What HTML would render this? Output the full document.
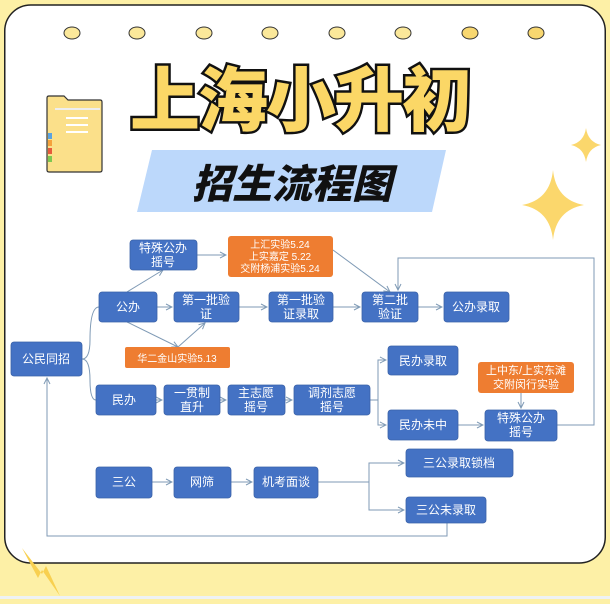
<!DOCTYPE html>
<html><head><meta charset="utf-8"><style>
body{margin:0;width:610px;height:599px;overflow:hidden;background:#fdf0a6;font-family:"Liberation Sans","Noto Sans CJK SC",sans-serif;}
</style></head><body>
<svg width="610" height="599" xmlns="http://www.w3.org/2000/svg" font-family="Liberation Sans, Noto Sans CJK SC, sans-serif">
<defs><marker id="a" markerWidth="8" markerHeight="8" refX="7" refY="4" orient="auto" markerUnits="userSpaceOnUse"><path d="M1,1 L7,4 L1,7" fill="none" stroke="#7f9ab5" stroke-width="1"/></marker></defs>
<rect x="0" y="0" width="610" height="599" fill="#fdf0a6"/>
<rect x="0" y="596" width="610" height="3" fill="#eef2f4"/>
<rect x="4.75" y="5" width="600.5" height="558" rx="26" fill="#fff" stroke="#222" stroke-width="1.5"/>
<g fill="#fbe89a" stroke="#333" stroke-width="1">
<ellipse cx="72" cy="33" rx="8" ry="6"/><ellipse cx="137" cy="33" rx="8" ry="6"/><ellipse cx="204" cy="33" rx="8" ry="6"/><ellipse cx="270" cy="33" rx="8" ry="6"/><ellipse cx="337" cy="33" rx="8" ry="6"/><ellipse cx="403" cy="33" rx="8" ry="6"/><ellipse cx="470" cy="33" rx="8" ry="6" fill="#f8d770"/><ellipse cx="536" cy="33" rx="8" ry="6" fill="#f8d770"/>
</g>
<!-- folder -->
<path d="M47,112 V98 Q47,96 49,96 H64 L68,100 H100 Q102,100 102,102 V170 Q102,172 100,172 H49 Q47,172 47,170 Z" fill="#fbe08a" stroke="#333" stroke-width="1.2"/>
<rect x="48" y="133" width="4" height="6" fill="#5ba3e0"/><rect x="48" y="140" width="4" height="6" fill="#f5a23c"/><rect x="48" y="148" width="4" height="6" fill="#e65a3c"/><rect x="48" y="156" width="4" height="6" fill="#7ec850"/>
<rect x="55" y="108" width="45" height="2" fill="#eee"/>
<g stroke="#fff" stroke-width="2"><line x1="66" y1="118" x2="88" y2="118"/><line x1="66" y1="125" x2="88" y2="125"/><line x1="66" y1="132" x2="88" y2="132"/></g>
<!-- title -->
<text x="300" y="125" text-anchor="middle" font-size="70" font-weight="900" fill="#fbd766" stroke="#111" stroke-width="5" paint-order="stroke" letter-spacing="-2" font-family="Noto Sans CJK SC, sans-serif">上海小升初</text>
<polygon points="152,150 446,150 432,212 137,212" fill="#bcd8fb"/>
<text x="292" y="198" text-anchor="middle" font-size="40" font-weight="900" fill="#111" font-style="italic" font-family="Noto Sans CJK SC, sans-serif">招生流程图</text>
<!-- sparkles -->
<path d="M553,170 Q556,200 584,205 Q556,210 553,240 Q550,210 522,205 Q550,200 553,170Z" fill="#fbd76c"/>
<path d="M586,128 Q588,142 601,145 Q588,148 586,162 Q584,148 571,145 Q584,142 586,128Z" fill="#fbd76c"/>
<path d="M22,548 L38,578 L42,570 L60,596 L46,566 L42,574 Z" fill="#f8d050"/>
<!-- connectors -->
<g fill="none" stroke="#7f9ab5" stroke-width="1">
<path d="M82,359 Q90,359 90,340 Q90,307 99,307"/>
<path d="M82,359 Q90,359 90,380 Q90,400 96,400"/>
<line x1="127" y1="292" x2="163" y2="270" marker-end="url(#a)"/>
<line x1="197" y1="255" x2="226" y2="255" marker-end="url(#a)"/>
<line x1="333" y1="250" x2="390" y2="292" marker-end="url(#a)"/>
<line x1="157" y1="307" x2="172" y2="307" marker-end="url(#a)"/>
<line x1="239" y1="307" x2="267" y2="307" marker-end="url(#a)"/>
<line x1="333" y1="307" x2="360" y2="307" marker-end="url(#a)"/>
<line x1="418" y1="307" x2="442" y2="307" marker-end="url(#a)"/>
<line x1="127" y1="322" x2="178" y2="347" marker-end="url(#a)"/>
<line x1="178" y1="347" x2="205" y2="323" marker-end="url(#a)"/>
<line x1="156" y1="400" x2="162" y2="400" marker-end="url(#a)"/>
<line x1="220" y1="400" x2="226" y2="400" marker-end="url(#a)"/>
<line x1="285" y1="400" x2="292" y2="400" marker-end="url(#a)"/>
<path d="M370,400 H378 V360 H386" marker-end="url(#a)"/>
<path d="M378,400 V425 H386" marker-end="url(#a)"/>
<line x1="458" y1="425" x2="483" y2="425" marker-end="url(#a)"/>
<line x1="521" y1="393" x2="521" y2="408" marker-end="url(#a)"/>
<path d="M557,425 H594 V258 H398 V290" marker-end="url(#a)"/>
<line x1="152" y1="482" x2="172" y2="482" marker-end="url(#a)"/>
<line x1="231" y1="482" x2="252" y2="482" marker-end="url(#a)"/>
<path d="M318,482 H369 V463 H404" marker-end="url(#a)"/>
<path d="M369,482 V510 H404" marker-end="url(#a)"/>
<path d="M447,523 V536 H47 V378" marker-end="url(#a)"/>
</g>
<!-- boxes -->
<g fill="#4472c4" stroke="#3a62a8" stroke-width="0.8">
<rect x="130" y="240" width="67" height="30" rx="3"/>
<rect x="99" y="292" width="58" height="30" rx="3"/>
<rect x="174" y="292" width="65" height="30" rx="3"/>
<rect x="269" y="292" width="64" height="30" rx="3"/>
<rect x="362" y="292" width="56" height="30" rx="3"/>
<rect x="444" y="292" width="65" height="30" rx="3"/>
<rect x="11" y="342" width="71" height="34" rx="3"/>
<rect x="96" y="385" width="60" height="30" rx="3"/>
<rect x="164" y="385" width="56" height="30" rx="3"/>
<rect x="228" y="385" width="57" height="30" rx="3"/>
<rect x="294" y="385" width="76" height="30" rx="3"/>
<rect x="388" y="346" width="70" height="29" rx="3"/>
<rect x="388" y="410" width="70" height="30" rx="3"/>
<rect x="485" y="410" width="72" height="31" rx="3"/>
<rect x="96" y="467" width="56" height="31" rx="3"/>
<rect x="174" y="467" width="57" height="31" rx="3"/>
<rect x="254" y="467" width="64" height="31" rx="3"/>
<rect x="406" y="449" width="107" height="28" rx="3"/>
<rect x="406" y="497" width="80" height="26" rx="3"/>
</g>
<g fill="#ee7d31">
<rect x="228" y="236" width="105" height="41" rx="3"/>
<rect x="125" y="347" width="105" height="21" rx="2"/>
<rect x="478" y="362" width="96" height="31" rx="3"/>
</g>
<g fill="#fff" font-size="12" text-anchor="middle">
<text x="163" y="252">特殊公办</text><text x="163" y="266">摇号</text>
<text x="280" y="248" font-size="10">上汇实验5.24</text><text x="280" y="260" font-size="10">上实嘉定 5.22</text><text x="280" y="272" font-size="10">交附杨浦实验5.24</text>
<text x="128" y="311">公办</text>
<text x="206" y="304">第一批验</text><text x="206" y="318">证</text>
<text x="301" y="304">第一批验</text><text x="301" y="318">证录取</text>
<text x="390" y="304">第二批</text><text x="390" y="318">验证</text>
<text x="476" y="311">公办录取</text>
<text x="177" y="362" font-size="10">华二金山实验5.13</text>
<text x="46" y="363">公民同招</text>
<text x="124" y="404">民办</text>
<text x="192" y="397">一贯制</text><text x="192" y="411">直升</text>
<text x="256" y="397">主志愿</text><text x="256" y="411">摇号</text>
<text x="332" y="397">调剂志愿</text><text x="332" y="411">摇号</text>
<text x="423" y="365">民办录取</text>
<text x="423" y="429">民办未中</text>
<text x="526" y="374" font-size="11">上中东/上实东滩</text><text x="526" y="388" font-size="11">交附闵行实验</text>
<text x="521" y="422">特殊公办</text><text x="521" y="436">摇号</text>
<text x="124" y="486">三公</text>
<text x="202" y="486">网筛</text>
<text x="286" y="486">机考面谈</text>
<text x="459" y="467">三公录取锁档</text>
<text x="446" y="514">三公未录取</text>
</g>
</svg>
</body></html>
